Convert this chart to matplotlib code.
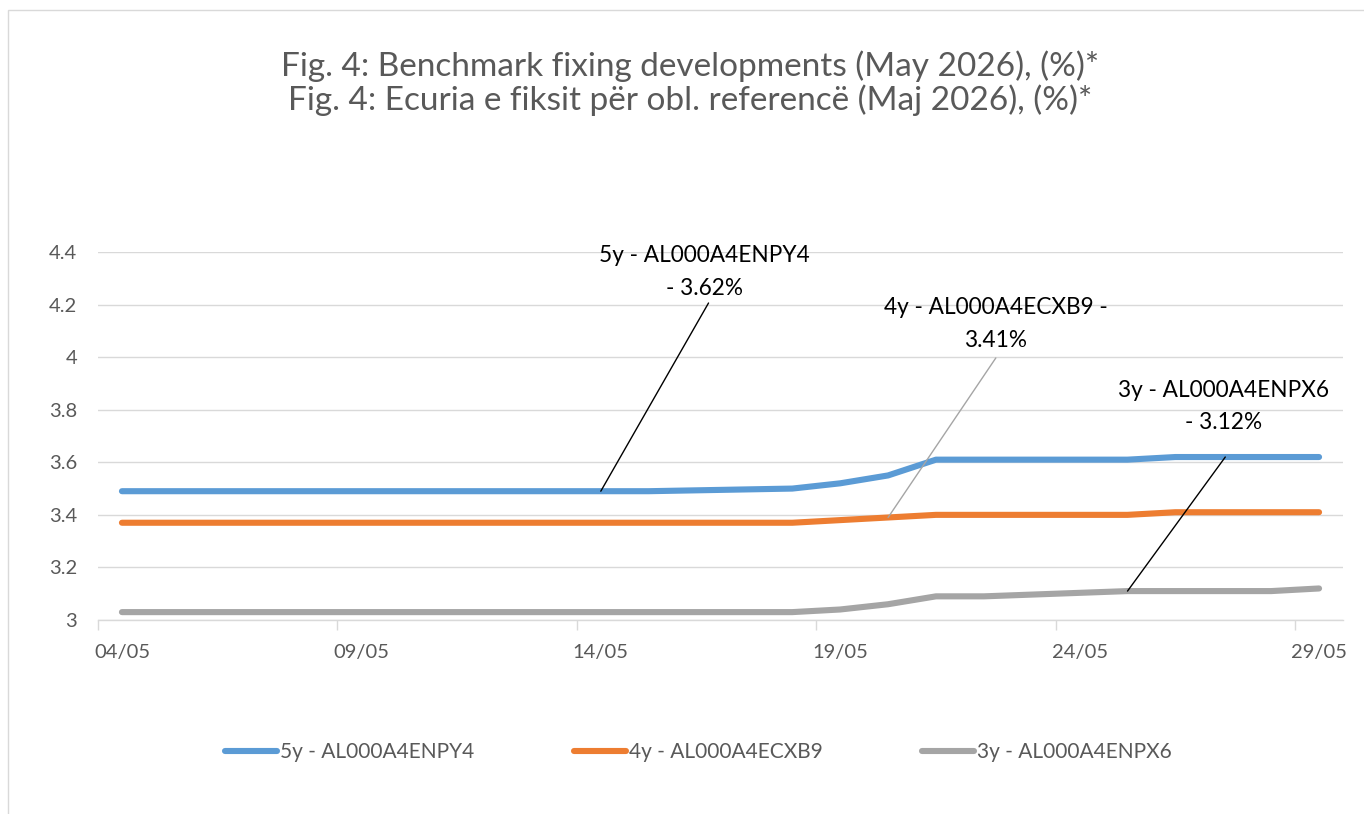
import datetime as dt
import matplotlib
matplotlib.use("Agg")
import matplotlib.pyplot as plt
from matplotlib.patches import Rectangle

# fixing dates (business days, May 2026)
days = [4, 5, 6, 7, 8, 11, 12, 13, 14, 15, 18, 19, 20, 21, 22, 25, 26, 27, 28, 29]
dates = [dt.datetime(2026, 5, d) for d in days]

y5 = [3.49, 3.49, 3.49, 3.49, 3.49, 3.49, 3.49, 3.49, 3.49, 3.49,
      3.50, 3.52, 3.55, 3.61, 3.61, 3.61, 3.62, 3.62, 3.62, 3.62]
y4 = [3.37, 3.37, 3.37, 3.37, 3.37, 3.37, 3.37, 3.37, 3.37, 3.37,
      3.37, 3.38, 3.39, 3.40, 3.40, 3.40, 3.41, 3.41, 3.41, 3.41]
y3 = [3.03, 3.03, 3.03, 3.03, 3.03, 3.03, 3.03, 3.03, 3.03, 3.03,
      3.03, 3.04, 3.06, 3.09, 3.09, 3.11, 3.11, 3.11, 3.11, 3.12]

names = ["5y - AL000A4ENPY4", "4y - AL000A4ECXB9", "3y - AL000A4ENPX6"]
colors = ["#5B9BD5", "#ED7D31", "#A5A5A5"]

tick_days = [4, 9, 14, 19, 24, 29]
yticks = [3, 3.2, 3.4, 3.6, 3.8, 4, 4.2, 4.4]

plt.rcParams["font.family"] = ["Lato", "DejaVu Sans"]
grey_txt = "#595959"

fig = plt.figure(figsize=(13.64, 8.14), dpi=100)
ax = fig.add_axes([98 / 1364, 1 - 620 / 814, (1343 - 98) / 1364, (620 - 252) / 814])

# chart border (Excel chart area)
fig.patches.append(Rectangle((8 / 1364, -0.1), 1.2, 1.1 - 10 / 814, transform=fig.transFigure,
                             fill=False, edgecolor="#D9D9D9", linewidth=1))

for ys, c, n in zip([y5, y4, y3], colors, names):
    ax.plot(dates, ys, color=c, lw=4.4, solid_capstyle="round", solid_joinstyle="round", label=n)

half = dt.timedelta(hours=12)
ax.set_xlim(dates[0] - half, dates[-1] + half)
ax.set_ylim(3, 4.4)

# labels at day centres, tick marks at day edges
lab_dates = [dt.datetime(2026, 5, d) for d in tick_days]
ax.set_xticks(lab_dates)
ax.set_xticklabels([d.strftime("%d/%m") for d in lab_dates])
ax.set_xticks([d - half for d in lab_dates], minor=True)
ax.tick_params(axis="x", which="major", length=0, pad=17, labelsize=14.5, labelcolor=grey_txt)
ax.tick_params(axis="x", which="minor", length=7, color="#D9D9D9", width=1)

ax.set_yticks(yticks)
ax.set_yticklabels(["%g" % v for v in yticks])
ax.tick_params(axis="y", length=0, pad=15, labelsize=14.5, labelcolor=grey_txt)
ax.yaxis.grid(True, color="#D9D9D9", lw=1)
ax.set_axisbelow(True)

for s in ["top", "right", "left"]:
    ax.spines[s].set_visible(False)
ax.spines["bottom"].set_color("#D9D9D9")
ax.spines["bottom"].set_linewidth(1)

# data labels: text centre, leader start, index of labelled point
def d(day, hour=0):
    return dt.datetime(2026, 5, day, hour)

ann = [
    ("5y - AL000A4ENPY4\n- 3.62%", (d(16, 4), 4.324), (d(16, 6), 4.206), 8, y5, "black"),
    ("4y - AL000A4ECXB9 -\n3.41%", (d(22, 6), 4.126), (d(22, 6), 3.997), 12, y4, "#A5A5A5"),
    ("3y - AL000A4ENPX6\n- 3.12%", (d(27, 0), 3.812), (d(27, 1), 3.62), 15, y3, "black"),
]
for txt, tpos, lpos, i, ys, lc in ann:
    ax.text(tpos[0], tpos[1], txt, ha="center", va="center", fontsize=16.3,
            color="black", linespacing=1.65)
    ax.annotate("", xy=(dates[i], ys[i]), xytext=lpos,
                arrowprops=dict(arrowstyle="-", color=lc, lw=1, shrinkA=0, shrinkB=0))

fig.text(0.506, 1 - 66 / 814, "Fig. 4: Benchmark fixing developments (May 2026), (%)*",
         ha="center", va="center", fontsize=24, color=grey_txt)
fig.text(0.506, 1 - 100 / 814, "Fig. 4: Ecuria e fiksit për obl. referencë (Maj 2026), (%)*",
         ha="center", va="center", fontsize=24, color=grey_txt)

leg = fig.legend(loc="center", bbox_to_anchor=(0.512, 1 - 752 / 814), ncol=3, frameon=False,
                 fontsize=15, handlelength=2.5, handletextpad=0.15, columnspacing=4.75)
for t in leg.get_texts():
    t.set_color(grey_txt)

fig.savefig("out.png", dpi=100)
